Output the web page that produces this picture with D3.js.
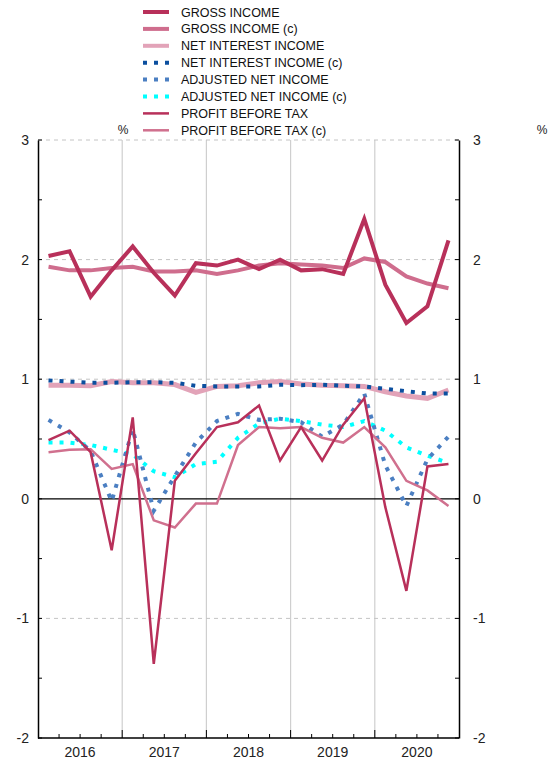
<!DOCTYPE html>
<html>
<head>
<meta charset="utf-8">
<script src="https://cdn.jsdelivr.net/npm/d3@7"></script>
<style>
  body { margin: 0; background: #fff; }
  text { font-family: Arial, "Liberation Sans", sans-serif; }
</style>
</head>
<body>
<div id="chart"></div>
<script>
// Datos trimestrales 2016 T1 - 2020 T4 (%)
const YEARS = ["2016", "2017", "2018", "2019", "2020"];
const Y_TICKS = [-2, -1, 0, 1, 2, 3];

const grossIncome = [2.03, 2.07, 1.69, 1.91, 2.11, 1.89, 1.70, 1.97, 1.95, 2.00,
                     1.92, 2.00, 1.91, 1.92, 1.88, 2.34, 1.79, 1.47, 1.61, 2.16];
const grossIncomeC = [1.94, 1.91, 1.91, 1.93, 1.94, 1.90, 1.90, 1.91, 1.88, 1.91,
                      1.95, 1.97, 1.96, 1.95, 1.93, 2.01, 1.98, 1.86, 1.80, 1.76];
const netInterest = [0.95, 0.95, 0.945, 0.98, 0.97, 0.97, 0.955, 0.89, 0.94, 0.945,
                     0.97, 0.98, 0.96, 0.95, 0.945, 0.94, 0.895, 0.86, 0.84, 0.91];
const netInterestC = [0.99, 0.98, 0.97, 0.97, 0.975, 0.975, 0.97, 0.945, 0.94, 0.94,
                      0.94, 0.953, 0.95, 0.953, 0.945, 0.94, 0.92, 0.90, 0.88, 0.88];
const adjustedNet = [0.66, 0.555, 0.40, -0.02, 0.58, -0.10, 0.19, 0.47, 0.65, 0.71,
                     0.66, 0.67, 0.64, 0.52, 0.62, 0.88, 0.28, -0.06, 0.33, 0.52];
const adjustedNetC = [0.47, 0.47, 0.45, 0.41, 0.37, 0.23, 0.18, 0.29, 0.31, 0.51,
                      0.63, 0.67, 0.65, 0.62, 0.60, 0.65, 0.57, 0.43, 0.36, 0.30];
const profit = [0.49, 0.57, 0.39, -0.43, 0.68, -1.38, 0.15, 0.38, 0.60, 0.64,
                0.78, 0.32, 0.60, 0.32, 0.62, 0.84, -0.07, -0.77, 0.27, 0.29];
const profitC = [0.39, 0.41, 0.415, 0.25, 0.29, -0.18, -0.24, -0.04, -0.04, 0.45,
                 0.60, 0.59, 0.60, 0.51, 0.47, 0.60, 0.43, 0.15, 0.07, -0.06];

// Series en orden de la leyenda
const SERIES = [
    { name: "GROSS INCOME", values: grossIncome, color: "#b8305a", width: 4, dash: null, legendW: 4 },
    { name: "GROSS INCOME (c)", values: grossIncomeC, color: "#cf6d8d", width: 4, dash: null, legendW: 4 },
    { name: "NET INTEREST INCOME", values: netInterest, color: "#e2a3b8", width: 5, dash: null, legendW: 4 },
    { name: "NET INTEREST INCOME (c)", values: netInterestC, color: "#0b4f9f", width: 4, dash: "4,7", legendW: 4 },
    { name: "ADJUSTED NET INCOME", values: adjustedNet, color: "#4b7fc2", width: 4, dash: "4,7", legendW: 4 },
    { name: "ADJUSTED NET INCOME (c)", values: adjustedNetC, color: "#00ffff", width: 4, dash: "4,7", legendW: 4 },
    { name: "PROFIT BEFORE TAX", values: profit, color: "#b8305a", width: 2.5, dash: null, legendW: 2.5 },
    { name: "PROFIT BEFORE TAX (c)", values: profitC, color: "#d0708e", width: 2.5, dash: null, legendW: 2.5 }
];

// Orden de dibujo (de atrás hacia adelante)
const DRAW_ORDER = [2, 1, 0, 3, 5, 4, 7, 6];

const WIDTH = 555;
const HEIGHT = 760;
const LEFT = 38, RIGHT = 459, TOP = 140, BOTTOM = 738;

const svg = d3.select("#chart").append("svg")
    .attr("width", WIDTH).attr("height", HEIGHT);

const nQ = YEARS.length * 4;
const x = d3.scaleLinear().domain([0, nQ]).range([LEFT, RIGHT]);
const y = d3.scaleLinear().domain([-2, 3]).range([BOTTOM, TOP]);

// Líneas verticales por año
svg.append("g").selectAll("line")
    .data(d3.range(1, YEARS.length))
    .enter().append("line")
    .attr("x1", d => x(d * 4)).attr("x2", d => x(d * 4))
    .attr("y1", TOP).attr("y2", BOTTOM)
    .attr("stroke", "#cfcfcf").attr("stroke-width", 1.2);

// Grilla horizontal punteada
svg.append("g").selectAll("line")
    .data(Y_TICKS.filter(d => d !== 0 && d !== -2))
    .enter().append("line")
    .attr("x1", LEFT).attr("x2", RIGHT)
    .attr("y1", d => y(d)).attr("y2", d => y(d))
    .attr("stroke", "#c4c4c4").attr("stroke-width", 1)
    .attr("stroke-dasharray", "4,4");

// Línea de cero
svg.append("line")
    .attr("x1", LEFT).attr("x2", RIGHT)
    .attr("y1", y(0)).attr("y2", y(0))
    .attr("stroke", "#000").attr("stroke-width", 1.2);

// Ejes (con guion normal en los negativos)
const fmt = d => String(d);
const yLeft = d3.axisLeft(y).tickValues(Y_TICKS).tickSize(0).tickPadding(9).tickFormat(fmt);
const yRight = d3.axisRight(y).tickValues(Y_TICKS).tickSize(0).tickPadding(14).tickFormat(fmt);

const gl = svg.append("g").attr("transform", `translate(${LEFT},0)`).call(yLeft);
const gr = svg.append("g").attr("transform", `translate(${RIGHT},0)`).call(yRight);
[gl, gr].forEach(g => {
    g.select(".domain").attr("stroke", "#000").attr("stroke-width", 1.5);
    g.selectAll("text").style("font-size", "14px").attr("fill", "#222");
});

// Marcas interiores en y (cada 0.5)
const halfTicks = d3.range(-2, 3.01, 0.5);
svg.append("g").selectAll("line")
    .data(halfTicks)
    .enter().append("line")
    .attr("x1", LEFT).attr("x2", LEFT + 4)
    .attr("y1", d => y(d)).attr("y2", d => y(d))
    .attr("stroke", "#000").attr("stroke-width", 1);
svg.append("g").selectAll("line")
    .data(halfTicks)
    .enter().append("line")
    .attr("x1", RIGHT - 4).attr("x2", RIGHT)
    .attr("y1", d => y(d)).attr("y2", d => y(d))
    .attr("stroke", "#000").attr("stroke-width", 1);

// Eje inferior
svg.append("line")
    .attr("x1", LEFT).attr("x2", RIGHT)
    .attr("y1", BOTTOM).attr("y2", BOTTOM)
    .attr("stroke", "#000").attr("stroke-width", 1.5);
svg.append("g").selectAll("line")
    .data(d3.range(1, nQ))
    .enter().append("line")
    .attr("x1", d => x(d)).attr("x2", d => x(d))
    .attr("y1", BOTTOM).attr("y2", d => d % 4 === 0 ? BOTTOM - 8 : BOTTOM - 4)
    .attr("stroke", "#000").attr("stroke-width", 1);

svg.append("g").selectAll("text")
    .data(YEARS)
    .enter().append("text")
    .attr("x", (d, i) => x(i * 4 + 2))
    .attr("y", 757)
    .attr("text-anchor", "middle")
    .style("font-size", "14px")
    .attr("fill", "#222")
    .text(d => d);

// Etiquetas de %
svg.append("text").attr("x", 123).attr("y", 134).attr("text-anchor", "middle")
    .style("font-size", "12px").attr("fill", "#222").text("%");
svg.append("text").attr("x", 542).attr("y", 134).attr("text-anchor", "middle")
    .style("font-size", "12px").attr("fill", "#222").text("%");

// Series
const line = d3.line()
    .x((d, i) => x(i + 0.5))
    .y(d => y(d));

const gLines = svg.append("g");
DRAW_ORDER.forEach(k => {
    const s = SERIES[k];
    gLines.append("path")
        .datum(s.values)
        .attr("d", line)
        .attr("fill", "none")
        .attr("stroke", s.color)
        .attr("stroke-width", s.width)
        .attr("stroke-linejoin", "miter")
        .attr("stroke-dasharray", s.dash);
});

// Leyenda
const legend = svg.append("g").attr("transform", "translate(143,12)");
const rowH = 16.9;
legend.selectAll("line")
    .data(SERIES)
    .enter().append("line")
    .attr("x1", 0).attr("x2", 26)
    .attr("y1", (d, i) => i * rowH).attr("y2", (d, i) => i * rowH)
    .attr("stroke", d => d.color)
    .attr("stroke-width", d => d.legendW)
    .attr("stroke-dasharray", d => d.dash);
legend.selectAll("text")
    .data(SERIES)
    .enter().append("text")
    .attr("x", 38)
    .attr("y", (d, i) => i * rowH)
    .attr("dy", "0.36em")
    .style("font-size", "12.5px")
    .attr("fill", "#111")
    .text(d => d.name);
</script>
</body>
</html>
